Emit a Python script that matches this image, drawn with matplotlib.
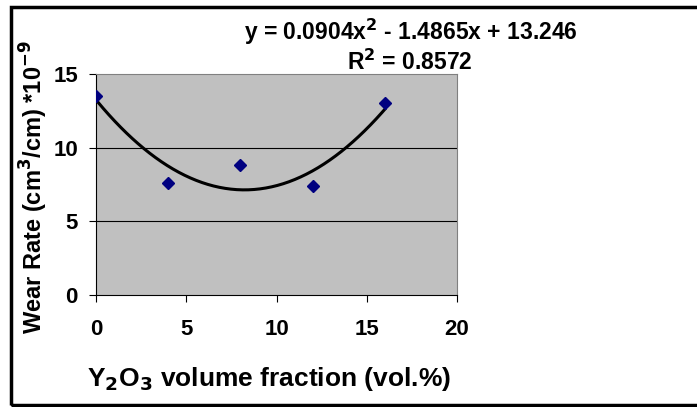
import numpy as np
import matplotlib.pyplot as plt
from matplotlib.patches import Rectangle

# dados
fracao_y2o3 = [0, 4, 8, 12, 16]
taxa_desgaste = [13.5, 7.6, 8.8, 7.4, 13.0]

# coeficientes da linha de tendência (polinomial ordem 2)
coef_tendencia = [0.0904, -1.4865, 13.246]
r2_texto = '0.8572'

x_ticks = [0, 5, 10, 15, 20]
y_ticks = [0, 5, 10, 15]

plt.rcParams['font.family'] = ['Liberation Sans', 'DejaVu Sans']
plt.rcParams['font.weight'] = 'bold'
plt.rcParams['mathtext.default'] = 'bf'

fig = plt.figure(figsize=(6.97, 4.07), dpi=100)
ax = fig.add_axes([96 / 697, 1 - 295 / 407, (457 - 96) / 697, (295 - 74) / 407])
ax.set_facecolor('#c0c0c0')

# linhas de grade
for yv in y_ticks[1:-1]:
    ax.axhline(yv, color='black', lw=0.8, zorder=1)

# tendência
xs = np.linspace(min(fracao_y2o3), max(fracao_y2o3), 200)
ax.plot(xs, np.polyval(coef_tendencia, xs), color='black', lw=2.2, zorder=2)

# pontos
ax.plot(fracao_y2o3, taxa_desgaste, linestyle='none', marker='D', markersize=6.5,
        color='#000080', zorder=3)

ax.set_xlim(0, 20)
ax.set_ylim(0, 15)
ax.set_xticks(x_ticks)
ax.set_yticks(y_ticks)
ax.tick_params(axis='both', labelsize=16, length=5, width=0.8, color='black')
ax.tick_params(axis='x', pad=12)
ax.tick_params(axis='y', pad=8)
for lab in ax.get_xticklabels() + ax.get_yticklabels():
    lab.set_fontweight('bold')

for s in ['top', 'right']:
    ax.spines[s].set_color('#808080')
for s in ['left', 'bottom']:
    ax.spines[s].set_color('black')

ax.set_xlabel('Y$_{2}$O$_{3}$ volume fraction (vol.%)', fontsize=19, fontweight='bold')
ax.set_ylabel('Wear Rate (cm$^{3}$/cm) *10$^{-9}$', fontsize=17, fontweight='bold')
ax.xaxis.set_label_coords(0.479, -0.315)
ax.yaxis.set_label_coords(-0.127, 0.49)

eq = 'y = %.4fx$^{2}$ - %.4fx + %.3f' % (coef_tendencia[0], -coef_tendencia[1], coef_tendencia[2])
fig.text(411 / 697, 1 - 32 / 407, eq, ha='center', va='center', fontsize=16.5, fontweight='bold')
fig.text(472 / 697, 1 - 62 / 407, 'R$^{2}$ = ' + r2_texto, ha='right', va='center',
         fontsize=16.5, fontweight='bold')

# moldura do gráfico
fig.patches.append(Rectangle((11 / 697, 2 / 407), 1.0, 1 - 9 / 407, transform=fig.transFigure,
                             fill=False, edgecolor='black', lw=2.5))

fig.savefig('out.png', dpi=100)
